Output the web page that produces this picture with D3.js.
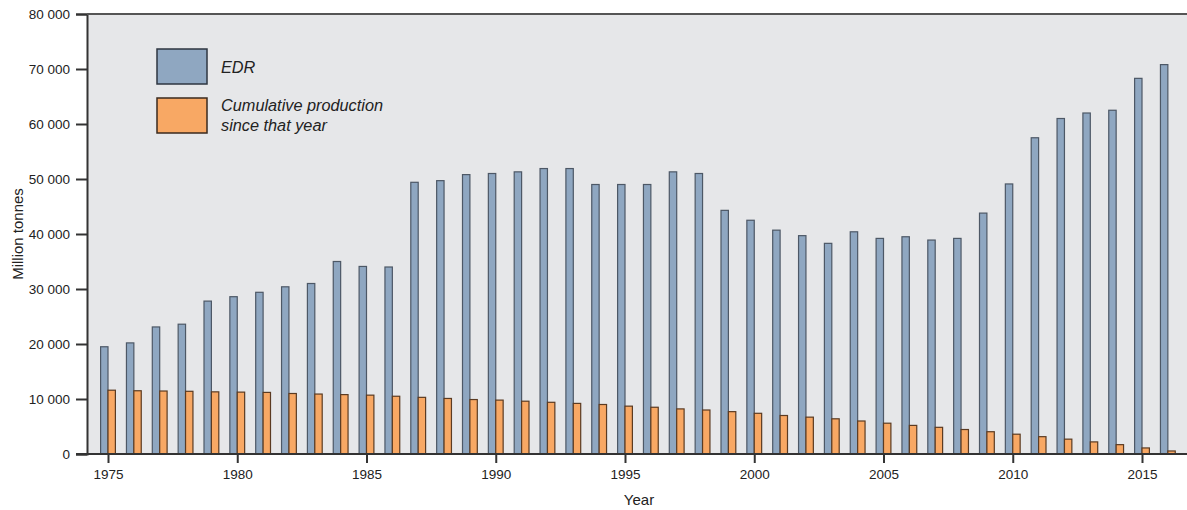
<!DOCTYPE html>
<html><head><meta charset="utf-8">
<script src="https://cdn.jsdelivr.net/npm/d3@7"></script>
<style>
body{margin:0;background:#fff;}
text{font-family:"Liberation Sans",Arial,sans-serif;}
</style></head>
<body><svg id="c" width="1187" height="510"></svg>
<script>
const years = d3.range(1975, 2017);
const edr = [19500,20200,23100,23600,27800,28600,29400,30400,31000,35000,34100,34000,
 49400,49700,50800,51000,51300,51900,51900,49000,49000,49000,51300,51000,
 44300,42500,40700,39700,38300,40400,39200,39500,38900,39200,43800,49100,
 57500,61000,62000,62500,68300,70800];
const cumProd = [11600,11500,11450,11400,11300,11250,11200,11000,10900,10800,10700,10500,
 10300,10100,9900,9800,9600,9400,9200,9000,8700,8500,8200,8000,
 7700,7400,7000,6700,6400,6000,5600,5200,4850,4450,4050,3600,
 3150,2700,2200,1700,1100,550];
const yTicks = [0,10000,20000,30000,40000,50000,60000,70000,80000];
const xTicks = [1975,1980,1985,1990,1995,2000,2005,2010,2015];
const legendLabels = [["EDR"],["Cumulative production","since that year"]];

const svg = d3.select("#c");
const L = 87, T = 14, B = 454, R = 1200;
const y = d3.scaleLinear().domain([0,80000]).range([B,T]);
const x = d3.scaleLinear().domain([1975,2015]).range([108,1142]);
const bw = 7.4;

svg.append("rect").attr("x",L).attr("y",T).attr("width",R-L).attr("height",B-T).attr("fill","#e6e7e9");

const blueF="#8fa7c1", blueS="#4d5866", orF="#f8a864", orS="#5b3b22";

svg.append("g").selectAll("rect").data(years).join("rect")
 .attr("x",(d)=>x(d)-bw).attr("y",(d,i)=>y(edr[i])).attr("width",bw)
 .attr("height",(d,i)=>B-y(edr[i])).attr("fill",blueF).attr("stroke",blueS).attr("stroke-width",1.2);
svg.append("g").selectAll("rect").data(years).join("rect")
 .attr("x",(d)=>x(d)).attr("y",(d,i)=>y(cumProd[i])).attr("width",bw)
 .attr("height",(d,i)=>B-y(cumProd[i])).attr("fill",orF).attr("stroke",orS).attr("stroke-width",1.2);

// y axis
const ya = svg.append("g").attr("transform",`translate(${L},0)`)
 .call(d3.axisLeft(y).tickValues(yTicks).tickSize(11).tickPadding(6)
   .tickFormat(d=>d3.format(",")(d).replace(/,/g," ")));
ya.select(".domain").attr("stroke","#333").attr("stroke-width",2);
ya.selectAll(".tick line").attr("stroke","#333").attr("stroke-width",2);
ya.selectAll("text").attr("font-size",13.5).attr("fill","#222").attr("font-family","Liberation Sans, Arial, sans-serif");

// top line
svg.append("line").attr("x1",L).attr("x2",R).attr("y1",T).attr("y2",T).attr("stroke","#555").attr("stroke-width",2);
// x axis
const xa = svg.append("g").attr("transform",`translate(0,${B})`)
 .call(d3.axisBottom(x).tickValues(xTicks).tickSize(9).tickPadding(6).tickFormat(d3.format("d")));
xa.select(".domain").remove();
xa.selectAll(".tick line").attr("stroke","#333").attr("stroke-width",2);
xa.selectAll("text").attr("font-size",13.5).attr("fill","#222").attr("font-family","Liberation Sans, Arial, sans-serif");
svg.append("line").attr("x1",76).attr("x2",R).attr("y1",B).attr("y2",B).attr("stroke","#333").attr("stroke-width",2);

svg.append("text").attr("transform","translate(23,234) rotate(-90)").attr("text-anchor","middle")
 .attr("font-size",15).attr("fill","#222").text("Million tonnes");
svg.append("text").attr("x",639).attr("y",505).attr("text-anchor","middle")
 .attr("font-size",15).attr("fill","#222").text("Year");

// legend
const leg = svg.append("g");
[[blueF,blueS,49],[orF,orS,98]].forEach((c,i)=>{
  leg.append("rect").attr("x",157).attr("y",c[2]).attr("width",50).attr("height",35)
   .attr("fill",c[0]).attr("stroke",i? "#3a2a1e":"#2e3640").attr("stroke-width",1.5);
  const t = leg.append("text").attr("x",221).attr("y",i?111:73).attr("font-size",16.3)
   .attr("font-style","italic").attr("fill","#222");
  legendLabels[i].forEach((s,j)=>t.append("tspan").attr("x",221).attr("dy",j?19.5:0).text(s));
});
</script></body></html>
